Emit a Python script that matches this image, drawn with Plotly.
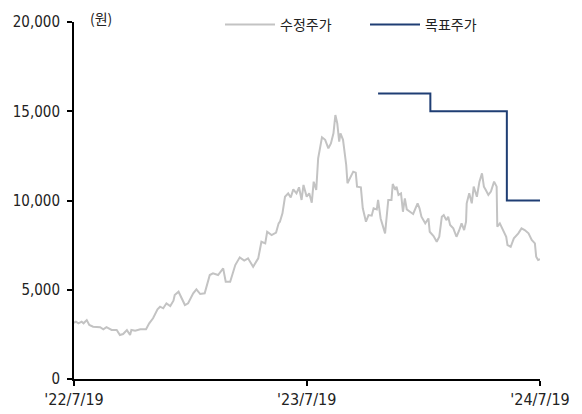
import plotly.graph_objects as go

price_dates = [
    "2022-07-19", "2022-07-22", "2022-07-26", "2022-07-31", "2022-08-03", "2022-08-08", "2022-08-12",
    "2022-08-18", "2022-08-29", "2022-09-03", "2022-09-08", "2022-09-16", "2022-09-24", "2022-09-29",
    "2022-10-04", "2022-10-10", "2022-10-15", "2022-10-17", "2022-10-23", "2022-10-31", "2022-11-09",
    "2022-11-14", "2022-11-20", "2022-11-27", "2022-12-01", "2022-12-06", "2022-12-11", "2022-12-17",
    "2022-12-22", "2022-12-24", "2022-12-30", "2023-01-04", "2023-01-09", "2023-01-14", "2023-01-22",
    "2023-01-27", "2023-02-02", "2023-02-09", "2023-02-17", "2023-02-22", "2023-03-02", "2023-03-10",
    "2023-03-14", "2023-03-21", "2023-03-29", "2023-04-05", "2023-04-12", "2023-04-18", "2023-04-26",
    "2023-05-04", "2023-05-09", "2023-05-15", "2023-05-18", "2023-05-25", "2023-06-01", "2023-06-05",
    "2023-06-07", "2023-06-11", "2023-06-15", "2023-06-20", "2023-06-24", "2023-06-28", "2023-07-03",
    "2023-07-07", "2023-07-11", "2023-07-14", "2023-07-19", "2023-07-23", "2023-07-27", "2023-07-30",
    "2023-08-03", "2023-08-06", "2023-08-12", "2023-08-17", "2023-08-22", "2023-08-26", "2023-08-30",
    "2023-09-02", "2023-09-05", "2023-09-08", "2023-09-10", "2023-09-14", "2023-09-19", "2023-09-21",
    "2023-09-25", "2023-09-30", "2023-10-04", "2023-10-06", "2023-10-12", "2023-10-15", "2023-10-20",
    "2023-10-24", "2023-10-29", "2023-11-01", "2023-11-06", "2023-11-08", "2023-11-12", "2023-11-19",
    "2023-11-24", "2023-11-29", "2023-12-01", "2023-12-05", "2023-12-07", "2023-12-10", "2023-12-14",
    "2023-12-17", "2023-12-20", "2023-12-23", "2023-12-28", "2024-01-02", "2024-01-09", "2024-01-12",
    "2024-01-15", "2024-01-21", "2024-01-26", "2024-01-28", "2024-02-03", "2024-02-08", "2024-02-12",
    "2024-02-16", "2024-02-19", "2024-02-23", "2024-02-26", "2024-02-29", "2024-03-05", "2024-03-10",
    "2024-03-14", "2024-03-18", "2024-03-22", "2024-03-25", "2024-03-26", "2024-03-30", "2024-04-03",
    "2024-04-06", "2024-04-11", "2024-04-15", "2024-04-19", "2024-04-22", "2024-04-25", "2024-04-29",
    "2024-05-03", "2024-05-06", "2024-05-08", "2024-05-12", "2024-05-13", "2024-05-17", "2024-05-22",
    "2024-05-27", "2024-05-29", "2024-06-03", "2024-06-08", "2024-06-15", "2024-06-20", "2024-06-25",
    "2024-07-01", "2024-07-06", "2024-07-11", "2024-07-13", "2024-07-16", "2024-07-19",
]
price_values = [
    3150, 3210, 3120, 3210, 3120, 3300, 3025,
    2930, 2900, 2780, 2900, 2745, 2745, 2465,
    2520, 2740, 2465, 2745, 2705, 2785, 2785,
    3120, 3400, 3905, 4050, 3960, 4240, 4090,
    4385, 4705, 4890, 4520, 4145, 4240, 4800,
    5025, 4760, 4800, 5825, 5920, 5825, 6200,
    5450, 5450, 6385, 6815, 6630, 6760, 6290,
    6760, 7690, 7600, 8250, 8065, 8200, 8720,
    8810, 9280, 10210, 10400, 10170, 10625, 10400,
    10740, 10030, 10870, 10210, 10400, 9880, 11055,
    10590, 12365, 13540, 13400, 12925, 13200, 13765,
    14790, 14325, 13295, 13765, 13400, 11990, 10965,
    11245, 11615, 11560, 10775, 10740, 9560, 8810,
    9185, 9150, 9560, 9500, 10030, 8995, 8160,
    10030, 10030, 10925, 10590, 10775, 10310, 10400,
    9370, 10120, 9500, 9370, 9245, 9840, 9560,
    9090, 8720, 8995, 8250, 8010, 7690, 7970,
    9090, 9185, 8900, 9090, 8625, 8440, 7970,
    8305, 8720, 8345, 8810, 9840, 10400, 9840,
    10775, 10210, 11055, 11520, 10775, 10590, 10310,
    10500, 10775, 11055, 10775, 8530, 8720, 8345,
    7970, 7505, 7410, 7880, 8160, 8440, 8345,
    8160, 7785, 7600, 6850, 6665, 6720,
]

target_dates = ["2023-11-08", "2024-01-29", "2024-05-28", "2024-07-19"]
target_values = [16000, 15000, 10000, 10000]

x_tick_vals = ["2022-07-19", "2023-07-19", "2024-07-19"]
x_tick_text = ["'22/7/19", "'23/7/19", "'24/7/19"]
y_tick_vals = [0, 5000, 10000, 15000, 20000]
y_tick_text = ["0", "5,000", "10,000", "15,000", "20,000"]

FONT = "DejaVu Sans Condensed, Noto Sans CJK KR, sans-serif"
KFONT = "Noto Sans CJK KR, sans-serif"

fig = go.Figure()
fig.add_trace(go.Scatter(
    x=price_dates, y=price_values, mode="lines", name="수정주가",
    line=dict(color="#C3C3C3", width=2),
))
fig.add_trace(go.Scatter(
    x=target_dates, y=target_values, mode="lines", name="목표주가",
    line=dict(color="#1F3E74", width=2, shape="hv"),
))

# the page body adds an 8px offset, so margins are shifted accordingly
fig.update_layout(
    width=582, height=414,
    margin=dict(l=66, r=50, t=14, b=43, autoexpand=False),
    paper_bgcolor="white", plot_bgcolor="white",
    showlegend=True,
    legend=dict(
        orientation="h", xref="container", yref="container",
        x=212 / 582, xanchor="left", y=1 - 17 / 414, yanchor="middle",
        font=dict(family=KFONT, size=14, color="#222222"),
        bgcolor="rgba(0,0,0,0)", itemwidth=50, entrywidth=80,
    ),
    xaxis=dict(
        type="date", range=["2022-07-19", "2024-07-19"],
        tickvals=x_tick_vals, ticktext=x_tick_text,
        showgrid=False, zeroline=False,
        showline=True, linecolor="black", linewidth=2,
        ticks="outside", ticklen=5, tickwidth=2, tickcolor="black",
        tickfont=dict(family=FONT, size=16, color="#222222"),
        automargin=False,
    ),
    yaxis=dict(
        range=[0, 20000],
        tickvals=y_tick_vals, ticktext=y_tick_text,
        showgrid=False, zeroline=False,
        showline=True, linecolor="black", linewidth=2,
        ticks="outside", ticklen=5, tickwidth=2, tickcolor="black",
        tickfont=dict(family=FONT, size=15, color="#222222"),
        ticklabelstandoff=4,
        automargin=False,
    ),
    annotations=[dict(
        text="(원)", xref="paper", yref="paper", x=0.03, y=1.011,
        xanchor="left", yanchor="middle", showarrow=False,
        font=dict(family=KFONT, size=14, color="#222222"),
    )],
)

fig.write_html("out.html")
